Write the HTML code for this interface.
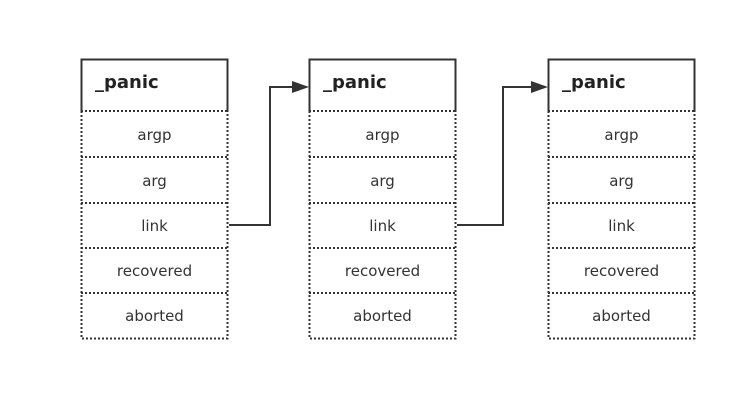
<!DOCTYPE html>
<html><head><meta charset="utf-8"><style>
html,body{margin:0;padding:0;background:#fff;width:743px;height:406px;overflow:hidden}
text{font-family:"DejaVu Sans","Liberation Sans",sans-serif;fill:#333}
</style></head><body>
<svg width="743" height="406" viewBox="0 0 743 406" xmlns="http://www.w3.org/2000/svg">
<defs>
<g id="box">
  <rect x="0" y="0" width="147" height="279" fill="#fff"/>
  <path d="M0.5 52 V0.5 H146.5 V52" fill="none" stroke="#333" stroke-width="2"/>
  <g fill="none" stroke="#333" stroke-width="2" stroke-dasharray="2 2">
    <path d="M0.5 52 V279.5 H146.5 V52"/>
    <path d="M0 52 H147 M0 98 H147 M0 144 H147 M0 189 H147 M0 234 H147"/>
  </g>
  <text x="14" y="29" font-size="18" font-weight="bold" style="fill:#222">_panic</text>
  <g font-size="15" text-anchor="middle">
    <text x="73.5" y="81">argp</text>
    <text x="73.5" y="127">arg</text>
    <text x="73.5" y="172">link</text>
    <text x="73.5" y="217">recovered</text>
    <text x="73.5" y="262">aborted</text>
  </g>
</g>
</defs>
<use href="#box" x="81" y="59"/>
<use href="#box" x="309" y="59"/>
<use href="#box" x="548" y="59"/>
<g fill="none" stroke="#333" stroke-width="2">
  <path d="M229 225 H270 V87 H294"/>
  <path d="M457 225 H503 V87 H533"/>
</g>
<path d="M309 87 L292 81 L292 93 Z" fill="#333"/>
<path d="M548 87 L531 81 L531 93 Z" fill="#333"/>
</svg>
</body></html>
